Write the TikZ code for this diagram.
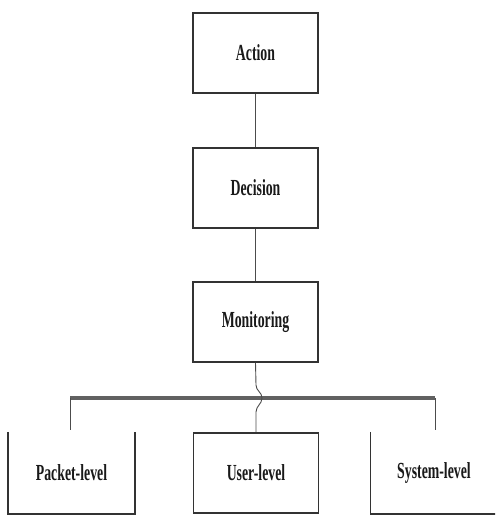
\documentclass[tikz,border=0pt]{standalone}
\usepackage{fontspec}
\setmainfont{Liberation Serif}
\usepackage{graphicx}
\newcommand{\lbl}[1]{\scalebox{0.6}[1]{\fontsize{23}{26}\selectfont\bfseries #1}}
\begin{document}
\begin{tikzpicture}[x=1pt,y=-1pt,
  box/.style={draw=black!80,line width=1.6pt,minimum width=125pt,minimum height=80pt,inner sep=0pt,text=black!90},
  openbox/.style={minimum width=127pt,minimum height=82pt,inner sep=0pt,text=black!90},
  edge/.style={draw=black!70,line width=0.9pt},
  bar/.style={draw=black!62,line width=3.2pt},
  side/.style={draw=black!80,line width=1.6pt}]
\useasboundingbox (0,0) rectangle (495,516);
\clip (0,0) rectangle (495,516);
\node[box] (act) at (255.5,53) {\lbl{Action}};
\node[box] (dec) at (255.5,188) {\lbl{Decision}};
\node[box] (mon) at (255.5,322) {\lbl{Monitoring}};
\node[box] (usr) at (256,473) {\lbl{User-level}};
\node[openbox] (pkt) at (71.5,473) {\lbl{Packet-level}};
\node[openbox] (sys) at (434,473) {\lbl{System-level}};
\draw[side] (pkt.north west) -- (pkt.south west) -- (pkt.south east) -- (pkt.north east);
\draw[side] (sys.north west) -- (sys.south west) -- (sys.south east) -- (sys.north east);
\draw[edge] (act) -- (dec);
\draw[edge] (dec) -- (mon);
\coordinate (w1) at (256,385);
\coordinate (w2) at (262,398);
\coordinate (w3) at (256,412);
\coordinate (bl) at (70,398);
\coordinate (br) at (435,398);
\coordinate (pk) at (70,430);
\coordinate (sk) at (435,430);
\draw[bar] (bl) -- (br);
\draw[edge] (bl) -- (pk);
\draw[edge] (br) -- (sk);
\draw[edge] (mon.south) -- (w1) .. controls (256,391) and (262,392) .. (w2) .. controls (262,404) and (256,406) .. (w3) -- (usr.north);
\end{tikzpicture}
\end{document}
